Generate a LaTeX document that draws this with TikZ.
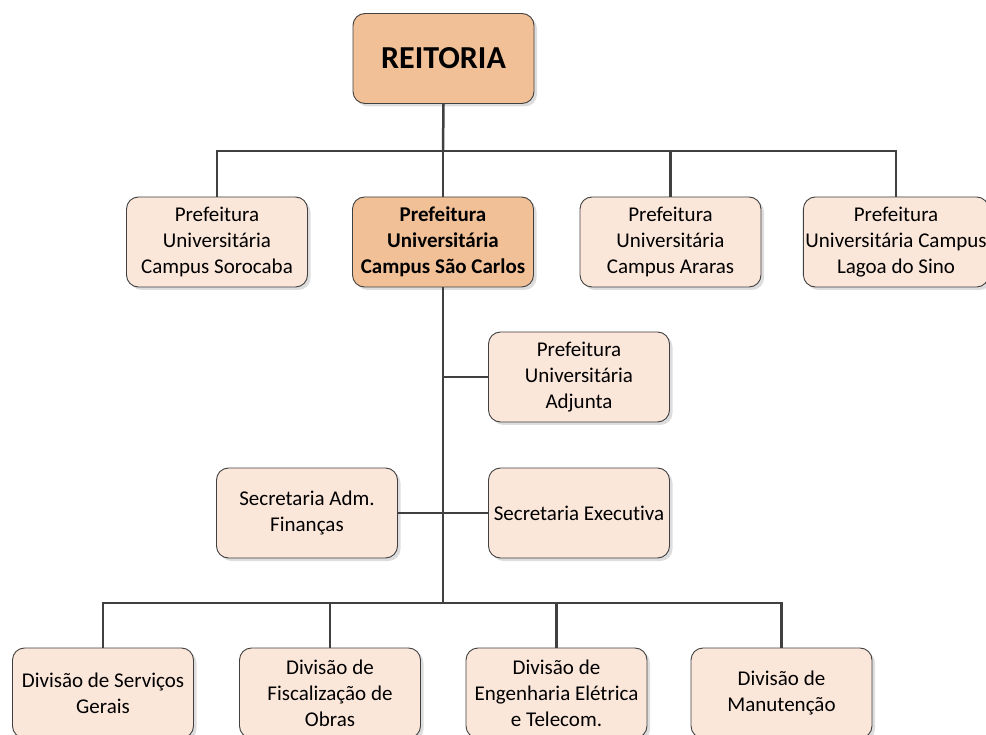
\documentclass[tikz,border=0pt]{standalone}
\usepackage{fontspec}
\setmainfont[Ligatures=NoCommon]{Carlito}
\usetikzlibrary{shadows}
\definecolor{boxlight}{HTML}{FBE6DA}
\definecolor{boxdark}{HTML}{F2C097}
\definecolor{edge}{HTML}{404040}
\begin{document}
\begin{tikzpicture}[x=1pt,y=-1pt,
  orgbox/.style={draw=edge, line width=0.9pt, fill=boxlight, rounded corners=12pt,
    minimum width=181pt, minimum height=90pt, align=center, inner sep=2pt,
    font=\fontsize{21}{26}\selectfont,
    drop shadow={shadow xshift=3pt, shadow yshift=-3pt, opacity=0.22, fill=black!60}},
  keybox/.style={orgbox, fill=boxdark},
  link/.style={draw=edge, line width=2.5pt}]
\useasboundingbox (0,0) rectangle (986,735);
% nodes
\node[keybox, font=\fontsize{32}{38}\selectfont\bfseries] (reit) at (443.5,58.5) {REITORIA};
\node[orgbox] (soro) at (217,242) {Prefeitura\\Universitária\\Campus Sorocaba};
\node[keybox, font=\fontsize{21}{26}\selectfont\bfseries] (sc) at (443,242) {Prefeitura\\Universitária\\Campus São Carlos};
\node[orgbox] (arar) at (670.5,242) {Prefeitura\\Universitária\\Campus Araras};
\node[orgbox] (lago) at (896,242) {Prefeitura\\Universitária Campus\\Lagoa do Sino};
\node[orgbox] (adj) at (579,377) {Prefeitura\\Universitária\\Adjunta};
\node[orgbox] (adm) at (307,513) {Secretaria Adm.\\Finanças};
\node[orgbox] (exe) at (579,513) {Secretaria Executiva};
\node[orgbox] (d1) at (103,693) {Divisão de Serviços\\Gerais};
\node[orgbox] (d2) at (330,693) {Divisão de\\Fiscalização de\\Obras};
\node[orgbox] (d3) at (556.5,693) {Divisão de\\Engenharia Elétrica\\e Telecom.};
\node[orgbox] (d4) at (781.5,693) {Divisão de\\Manutenção};
% bus points
\coordinate (b1) at (443,151);
\coordinate (b2) at (443,603);
% connectors
\draw[link] (reit.south) -- (b1);
\draw[link] (soro.north) |- (lago.north |- b1) -- (lago.north);
\draw[link] (sc.north) -- (sc.north |- b1);
\draw[link] (arar.north) -- (arar.north |- b1);
\draw[link] (sc.south) -- (b2);
\draw[link] (adj.west) -- (adj.west -| b2);
\draw[link] (adm.east) -- (exe.west);
\draw[link] (d1.north) |- (d4.north |- b2) -- (d4.north);
\draw[link] (d2.north) -- (d2.north |- b2);
\draw[link] (d3.north) -- (d3.north |- b2);
\end{tikzpicture}
\end{document}
